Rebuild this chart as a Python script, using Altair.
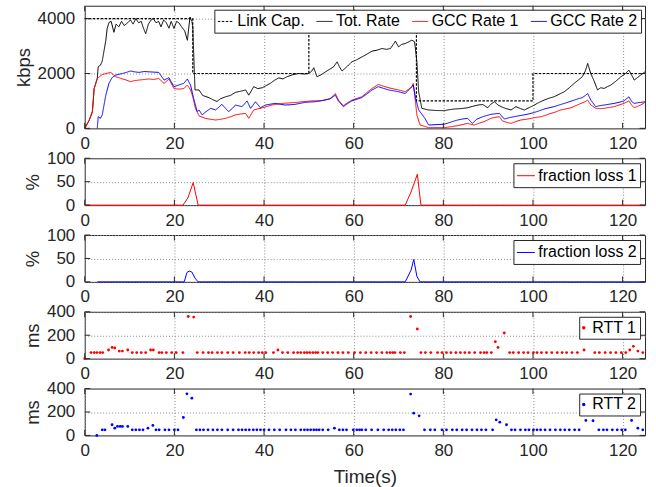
import altair as alt
import pandas as pd

FONT = "Liberation Sans"
FRAME = "#262626"
GRID = "#8c8c8c"
NB = "\u00a0"

# ---------------- data ----------------
time_ticks = [0, 20, 40, 60, 80, 100, 120]
rate_ticks = [0, 2000, 4000]
loss_ticks = [0, 50, 100]
rtt_ticks = [0, 200, 400]

series_names = ["Link Cap.", "Tot. Rate", "GCC Rate 1", "GCC Rate 2"]
series_colors = ["#000000", "#000000", "#ff0000", "#0000ff"]
series_dash = [[2.5, 1.5], [1, 0], [1, 0], [1, 0]]

link_t = [0, 24.1, 50, 74, 100, 125]
link_kbps = [4000, 2000, 3500, 1000, 2000, 2000]

tot_t = [0, 1, 1.7, 2.1, 2.8, 3.0, 3.5, 3.9, 4.7, 5.0, 5.4, 5.9, 6.5, 7.0, 7.6, 8.2, 8.8, 9.6,
         10.2, 10.8, 11.4, 12.0, 12.6, 13.1, 13.6, 14.2, 14.8, 15.3, 15.9, 16.5, 17.0, 17.6,
         18.2, 18.8, 19.3, 19.9, 20.5, 21.0, 21.6, 22.3, 22.9, 23.3, 23.5, 23.9, 24.1, 24.6,
         25.5, 26.3, 27.7, 28.5, 29.5, 30.3, 31.4, 32.5, 33.6, 34.7, 35.9, 36.6, 37.7, 38.6,
         39.6, 40.5, 41.4, 42.3, 43.3, 44.2, 45.1, 46.3, 47.7, 49.0, 50.0, 50.6, 51.1, 51.8,
         52.7, 53.7, 54.6, 55.5, 56.3, 56.8, 57.4, 58.5, 59.6, 60.7, 61.8, 62.9, 64.1, 65.2,
         66.3, 67.3, 68.2, 68.8, 69.3, 70.0, 70.7, 71.5, 72.2, 73.0, 73.6, 74.1, 74.5, 75.2,
         76.7, 78.5, 80.2, 81.3, 82.5, 84.0, 85.4, 86.5, 87.7, 88.8, 89.9, 90.6, 91.4, 92.2,
         92.9, 94.0, 95.1, 96.2, 97.2, 98.1, 99.2, 100.3, 101.4, 102.5, 103.6, 104.7, 105.8,
         107.0, 108.1, 109.2, 110.1, 111.0, 111.7, 112.2, 112.9, 113.7, 114.4, 115.1, 115.9,
         116.6, 117.4, 118.5, 119.6, 120.5, 121.4, 122.0, 122.6, 123.3, 124.0, 125.0]
tot_kbps = [0, 300, 600, 1450, 1820, 2250, 2300, 2450, 3200, 3640, 3855, 3900, 3500, 3800, 3700,
            3900, 3750, 3850, 3950, 3800, 4000, 3850, 3900, 3650, 3450, 3800, 3950, 4000, 3850,
            3900, 3700, 3950, 3850, 3650, 3900, 3640, 3900, 3850, 3700, 3550, 3210, 3800, 4060,
            3900, 3700, 1400, 1400, 1200, 1120, 1050, 980, 1080, 1150, 1200, 1310, 1350, 1400,
            1210, 1520, 1450, 1480, 1560, 1640, 1750, 1840, 1800, 1880, 1950, 2000, 1980, 2000,
            2080, 2210, 1880, 1950, 2060, 2150, 2240, 2425, 2250, 2090, 2250, 2425, 2500, 2600,
            2700, 2815, 2850, 2910, 2880, 2910, 3050, 3180, 2970, 3060, 3090, 3150, 3215, 3150,
            2425, 1335, 730, 670, 650, 645, 680, 705, 720, 750, 800, 850, 870, 750, 880, 970,
            850, 790, 720, 670, 790, 720, 670, 760, 850, 950, 1030, 1100, 1150, 1240, 1335, 1480,
            1640, 1760, 1880, 2100, 2365, 2000, 1700, 1400, 1480, 1455, 1520, 1580, 1720, 1880,
            1980, 2120, 1950, 1760, 1850, 1940, 2060]

gcc1_t = [0, 1, 1.7, 2.1, 2.8, 3.9, 4.8, 5.8, 6.9, 7.6, 8.4, 9.3, 10.2, 11.1, 12.1, 13.2, 14.3,
          15.4, 16.5, 17.7, 18.8, 19.9, 21.0, 22.1, 22.9, 23.6, 24.1, 24.7, 25.5, 26.9, 27.7,
          29.2, 30.3, 31.4, 32.5, 33.6, 34.7, 35.9, 36.6, 37.7, 38.6, 39.6, 40.7, 41.8, 42.9,
          44.0, 45.1, 46.2, 47.4, 48.5, 49.6, 50.7, 51.8, 52.9, 53.9, 54.8, 55.9, 56.6, 57.7,
          58.6, 59.6, 60.7, 61.8, 62.9, 64.1, 65.5, 66.6, 67.8, 68.9, 70.0, 71.5, 72.3, 73.0,
          73.3, 73.7, 74.1, 74.8, 76.7, 78.5, 80.2, 81.7, 83.2, 84.3, 85.4, 86.9, 88.0, 89.1,
          90.6, 91.5, 92.5, 93.2, 94.1, 95.1, 96.2, 97.3, 98.5, 99.6, 100.7, 101.8, 102.9,
          104.0, 105.1, 106.2, 107.4, 108.5, 109.6, 110.7, 111.5, 112.2, 112.9, 114.0, 115.0,
          115.9, 117.0, 118.1, 119.2, 120.3, 121.4, 122.0, 122.6, 123.3, 124.0, 125.0]
gcc1_kbps = [0, 300, 600, 1450, 1820, 1960, 2000, 2040, 1880, 1850, 1800, 1760, 1700, 1740,
             1760, 1780, 1800, 1780, 1820, 1640, 1800, 1450, 1430, 1450, 1580, 1400, 1150, 730,
             450, 365, 340, 305, 330, 365, 420, 490, 520, 545, 365, 670, 710, 750, 800, 850, 880,
             910, 920, 935, 950, 970, 985, 1000, 1005, 1010, 1050, 1090, 1270, 1030, 825, 930,
             1030, 1090, 1150, 1300, 1455, 1600, 1540, 1480, 1440, 1400, 1335, 1430, 1520, 1640,
             1090, 490, 125, 25, 30, 25, 60, 100, 140, 180, 120, 190, 245, 365, 400, 425, 270,
             220, 180, 250, 305, 330, 365, 400, 425, 480, 545, 600, 670, 710, 750, 830, 910, 960,
             1030, 850, 730, 720, 730, 760, 790, 850, 910, 1000, 850, 750, 800, 850, 945]

gcc2_t = [2.8, 3.0, 3.5, 3.9, 4.7, 5.4, 6.1, 6.9, 7.6, 8.4, 9.3, 10.2, 11.1, 12.1, 13.2, 14.3,
          15.4, 16.5, 17.7, 18.8, 19.9, 21.0, 22.1, 22.9, 23.6, 24.3, 25.1, 25.5, 26.2, 27.0,
          28.1, 29.2, 30.6, 31.3, 32.1, 32.9, 33.6, 35.1, 36.2, 37.0, 38.1, 39.2, 40.3, 41.4,
          42.5, 43.6, 44.7, 45.8, 46.9, 48.0, 49.1, 50.2, 51.4, 52.5, 53.6, 54.7, 55.9, 56.6,
          57.7, 58.6, 59.6, 60.7, 61.8, 62.9, 64.1, 65.5, 66.6, 67.8, 68.9, 70.0, 71.5, 72.3,
          73.0, 73.3, 73.8, 74.5, 75.9, 76.7, 77.3, 78.8, 80.2, 81.7, 83.2, 84.3, 85.4, 86.5,
          87.4, 88.4, 89.5, 90.6, 91.5, 92.5, 93.6, 94.7, 95.8, 96.9, 98.0, 99.2, 100.3, 101.4,
          102.5, 103.6, 104.7, 105.8, 107.0, 108.1, 109.2, 110.1, 111.0, 111.7, 112.2, 112.9,
          114.0, 115.0, 115.9, 117.0, 118.1, 119.2, 120.3, 121.4, 122.0, 122.6, 123.3, 124.0,
          125.0]
gcc2_kbps = [0, 425, 365, 490, 1210, 1640, 1850, 1940, 1970, 2000, 2040, 2090, 2060, 2040, 2070,
             2060, 2050, 2040, 1760, 1850, 1520, 1580, 1640, 1800, 1580, 1090, 610, 670, 490,
             600, 730, 670, 875, 750, 610, 720, 850, 790, 1000, 730, 970, 750, 850, 880, 910, 880,
             850, 860, 875, 910, 945, 960, 970, 1000, 1030, 1070, 1210, 1000, 790, 900, 1000,
             1060, 1120, 1250, 1400, 1520, 1460, 1400, 1370, 1335, 1270, 1400, 1520, 1580, 1100,
             670, 365, 125, 125, 140, 150, 230, 305, 340, 365, 180, 330, 400, 460, 510, 530, 545,
             340, 390, 425, 460, 490, 530, 580, 640, 705, 750, 790, 850, 910, 970, 1030, 1080,
             1120, 1200, 1270, 1030, 790, 830, 850, 880, 910, 950, 1000, 1150, 980, 910, 930,
             945, 970]

loss1_t = [0, 21.9, 23.0, 24.2, 25.3, 71.5, 72.8, 74.2, 75.0, 125]
loss1_pct = [0, 0, 15, 48, 0, 0, 28, 66, 0, 0]

loss2_t = [2.8, 22.2, 22.8, 23.3, 23.9, 24.6, 25.3, 71.5, 72.8, 73.4, 74.1, 74.8, 125]
loss2_pct = [0, 0, 20, 23, 21, 8, 0, 0, 25, 48, 12, 0, 0]

rtt1_t = [0.0, 1.4, 2.1, 2.7, 3.4, 4.0, 5.3, 6.1, 6.7, 7.7, 8.4, 9.6, 10.6, 11.6, 12.6, 13.6,
          14.7, 15.3, 16.6, 17.2, 18.2, 19.4, 20.4, 21.9,
          23.1, 24.3,
          25.1, 26.4, 27.6, 28.4, 29.6, 30.6, 31.9, 33.1, 34.5, 35.8, 36.7, 37.7, 38.8, 39.6,
          40.4, 42.1,
          43.1,
          44.1, 45.3, 46.6, 47.5, 48.2, 49.0, 49.6, 50.2, 50.9, 51.5, 52.0, 53.1, 54.2, 55.3,
          56.5, 57.6, 58.8, 60.2, 61.5, 62.7, 63.9, 65.1, 66.3, 67.4, 68.1, 68.7, 69.2, 70.4, 71.3,
          72.7, 74.2,
          75.0, 76.0, 77.2, 78.7, 79.7, 80.7, 81.7, 82.8, 83.8, 84.8, 85.8, 87.0, 88.3, 89.1,
          89.7, 90.7,
          91.6, 92.2, 93.6,
          94.8, 95.6, 96.8, 97.9, 98.9, 100.1, 100.9, 101.9, 103.0, 104.2, 105.4, 106.5, 107.5,
          108.7, 109.9,
          111.4,
          113.8, 114.8, 116.1, 117.3, 118.5, 119.7, 120.7,
          121.6, 122.4, 123.4, 124.5]
rtt1_ms = [0, 52, 52, 52, 52, 52, 74, 96, 91, 65, 65, 74, 52, 52, 52, 52,
           74, 74, 52, 52, 52, 52, 52, 52,
           360, 355,
           52, 52, 52, 52, 52, 52, 52, 52, 52, 52, 52, 52, 52, 52,
           52, 52,
           74,
           52, 52, 52, 52, 52, 52, 52, 52, 52, 52, 52, 52, 52, 52,
           52, 52, 52, 52, 52, 52, 52, 52, 52, 52, 52, 52, 52, 52, 52,
           360, 253,
           52, 52, 52, 52, 52, 52, 52, 52, 52, 52, 52, 52, 52, 52,
           52, 52,
           145, 96, 219,
           52, 52, 52, 52, 52, 52, 52, 52, 52, 52, 52, 52, 52,
           52, 52,
           74,
           52, 52, 52, 52, 52, 52, 52,
           74, 105, 65, 52]

rtt2_t = [2.7, 3.9, 4.5, 6.1, 6.7, 7.3, 7.9, 8.4, 9.6, 10.6, 11.4, 12.2, 13.0, 14.1, 15.2,
          15.9, 16.6, 17.9, 18.8, 20.0, 20.8,
          22.0, 22.8, 23.9,
          24.9, 25.7, 26.5, 27.5, 28.6, 29.6, 30.6, 31.9, 33.1, 34.3,
          35.1, 35.9, 36.7, 37.6, 38.4, 39.2, 40.0, 41.1, 42.3, 43.5,
          44.9, 46.0, 47.0, 48.2, 49.0, 49.7, 50.4, 51.1, 51.7, 52.3,
          53.1, 54.3,
          55.7,
          56.8, 57.6, 58.4, 59.9, 60.7, 61.3, 61.8, 62.7, 64.0, 65.4, 66.7, 67.8, 68.6, 69.4,
          70.3, 71.1,
          72.7, 73.4, 74.6,
          75.8, 77.1, 78.1, 79.7, 80.7, 82.0, 83.0, 84.2, 85.2, 86.4, 87.5, 88.5, 89.5, 91.0,
          91.8, 92.6, 94.1,
          95.2, 96.0, 97.2, 98.3, 99.1, 100.1, 100.9, 101.7, 102.7, 103.8, 105.0, 106.1, 107.1,
          108.1, 109.3, 110.3,
          111.8, 113.4,
          114.7, 115.7, 116.5, 117.7, 118.8, 119.8, 120.6,
          122.0, 123.4, 124.5]
rtt2_ms = [0, 48, 48, 91, 62, 77, 77, 77, 77, 48, 48, 48, 48, 62, 85,
           48, 48, 48, 48, 48, 48,
           153, 355, 318,
           48, 48, 48, 48, 48, 48, 48, 48, 48, 48,
           48, 48, 48, 48, 48, 48, 48, 48, 48, 48,
           48, 48, 48, 48, 48, 48, 48, 48, 48, 48,
           48, 48,
           62,
           48, 48, 48, 48, 48, 48, 48, 48, 48, 48, 48, 48, 48, 48,
           48, 48,
           353, 190, 167,
           48, 48, 48, 48, 48, 48, 48, 48, 48, 48, 48, 48, 48, 48,
           133, 113, 91,
           48, 48, 48, 48, 48, 48, 48, 48, 48, 48, 48, 48, 48,
           48, 48, 48,
           128, 125,
           48, 48, 48, 48, 48, 48, 48,
           128, 62, 48]

# ---------------- layout constants ----------------
W = 562
H1 = 123
H = 47
TICK = 5.5

x_scale = alt.Scale(domain=[0, 125], nice=False, zero=False)


def x_axis(title=None):
    return alt.Axis(values=time_ticks, grid=True, tickSize=0, domain=False, labelPadding=7,
                    labelFlush=False, labelFontSize=17, title=title, titleFontSize=19,
                    titlePadding=9, labelOverlap=False, format="d")


def y_axis(ticks, title):
    return alt.Axis(values=ticks, grid=True, tickSize=0, domain=False, labelPadding=10,
                    labelFlush=False, labelFontSize=17, title=title, titleFontSize=18.5,
                    titlePadding=4, labelOverlap=False, format="d")


def panel(main_layers, yfield, yticks, y_scale, ytitle, h, xtitle=None):
    """Main marks plus MATLAB-style inward ticks on all four sides."""
    xe = alt.X("t:Q", scale=x_scale, axis=x_axis(xtitle))
    ye = alt.Y(yfield + ":Q", scale=y_scale, axis=y_axis(yticks, ytitle))
    xt = alt.Chart(pd.DataFrame({"t": time_ticks})).mark_rule(color=FRAME, strokeWidth=1)
    yt = alt.Chart(pd.DataFrame({yfield: yticks})).mark_rule(color=FRAME, strokeWidth=1)
    ticks = [
        xt.encode(x=xe, y=alt.value(h), y2=alt.value(h - TICK)),
        xt.encode(x=xe, y=alt.value(0), y2=alt.value(TICK)),
        yt.encode(y=ye, x=alt.value(0), x2=alt.value(TICK)),
        yt.encode(y=ye, x=alt.value(W - TICK), x2=alt.value(W)),
    ]
    layers = [m.encode(x=xe, y=ye) for m in main_layers]
    return alt.layer(*layers, *ticks).properties(width=W, height=h)


def legend_box(**kw):
    base = dict(title=None, orient="top-right", offset=5, fillColor="white",
                strokeColor=FRAME, padding=3, labelFont=FONT, labelFontSize=16,
                labelColor="#000000", cornerRadius=0)
    base.update(kw)
    return alt.Legend(**base)


# ---------------- panel 1: rates ----------------
rate_scale = alt.Scale(domain=[0, 4470], nice=False, zero=False)
top_legend = legend_box(direction="horizontal", symbolType="stroke", symbolSize=256,
                        symbolStrokeWidth=1, labelOffset=3, columnPadding=9, offset=4,
                        labelExpr="datum.label == 'GCC Rate 2' ? datum.label + '" + NB + NB + "' : datum.label")
col = alt.Color("series:N", scale=alt.Scale(domain=series_names, range=series_colors),
                legend=top_legend)
dash = alt.StrokeDash("series:N", scale=alt.Scale(domain=series_names, range=series_dash),
                      legend=top_legend)


def rate_layer(ts, vs, name, interp="linear", width=1):
    df = pd.DataFrame({"t": ts, "kbps": vs, "series": name})
    return alt.Chart(df).mark_line(strokeWidth=width, interpolate=interp).encode(
        color=col, strokeDash=dash)


p1 = panel([
    rate_layer(link_t, link_kbps, "Link Cap.", "step-after", 1.2),
    rate_layer(tot_t, tot_kbps, "Tot. Rate"),
    rate_layer(gcc1_t, gcc1_kbps, "GCC Rate 1"),
    rate_layer(gcc2_t, gcc2_kbps, "GCC Rate 2"),
], "kbps", rate_ticks, rate_scale, "kbps", H1)

# ---------------- panels 2-3: loss ----------------
loss_scale = alt.Scale(domain=[0, 100], nice=False, zero=False)


def loss_panel(ts, vs, name, color):
    df = pd.DataFrame({"t": ts, "pct": vs, "name": name})
    lg = legend_box(symbolType="stroke", symbolSize=324, symbolStrokeWidth=1, labelOffset=3,
                    symbolStrokeColor=color, labelExpr="datum.label + '" + NB * 5 + "'")
    line = alt.Chart(df).mark_line(strokeWidth=1).encode(
        color=alt.Color("name:N", scale=alt.Scale(domain=[name], range=[color]), legend=lg))
    return panel([line], "pct", loss_ticks, loss_scale, "%", H)


p2 = loss_panel(loss1_t, loss1_pct, "fraction loss 1", "#ff0000")
p3 = loss_panel(loss2_t, loss2_pct, "fraction loss 2", "#0000ff")

# ---------------- panels 4-5: RTT ----------------
rtt_scale = alt.Scale(domain=[0, 400], nice=False, zero=False)


def rtt_panel(ts, vs, name, color, xtitle=None):
    df = pd.DataFrame({"t": ts, "ms": vs, "name": name})
    lg = legend_box(symbolType="circle", symbolSize=12, symbolStrokeWidth=0,
                    labelOffset=0.5, symbolOffset={"expr": "-6.5"},
                    symbolFillColor=color)
    pts = alt.Chart(df).mark_circle(size=8, opacity=1).encode(
        color=alt.Color("name:N", scale=alt.Scale(domain=[name], range=[color]), legend=lg))
    return panel([pts], "ms", rtt_ticks, rtt_scale, "ms", H, xtitle)


p4 = rtt_panel(rtt1_t, rtt1_ms, "RTT 1", "#ff0000")
p5 = rtt_panel(rtt2_t, rtt2_ms, "RTT 2", "#0000ff", "Time(s)")

chart = alt.vconcat(p1, p2, p3, p4, p5, spacing=30, bounds="flush").resolve_scale(
    color="independent", strokeDash="independent", x="independent", y="independent"
).resolve_legend(color="independent", strokeDash="independent").properties(
    padding={"left": 13, "top": 4, "right": 8, "bottom": 0},
    background="white",
).configure_view(
    stroke=FRAME, strokeWidth=1
).configure_axis(
    labelFont=FONT, titleFont=FONT, labelColor=FRAME, titleColor=FRAME,
    titleFontWeight="normal", gridColor=GRID, gridDash=[1, 2], gridWidth=1, gridOpacity=1,
)

chart.save("out.html", embed_options={"renderer": "svg", "actions": False})
